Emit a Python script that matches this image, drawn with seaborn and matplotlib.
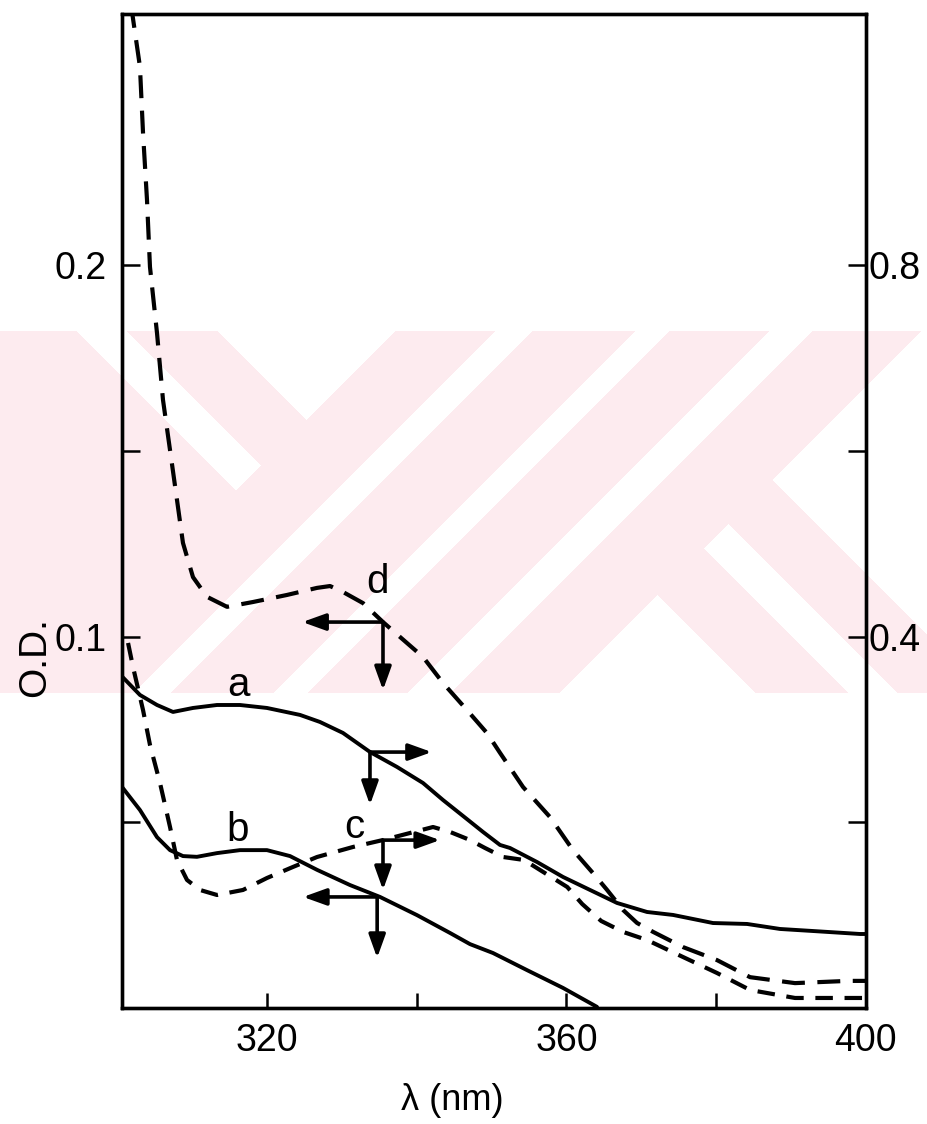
import numpy as np
import pandas as pd
import matplotlib
matplotlib.use("Agg")
import matplotlib.pyplot as plt
import seaborn as sns

# ---- spectra: wavelength (nm) and optical density ----
# curve a (solid, right-hand scale)
wl_a = [300.4, 302.99, 305.27, 307.41, 310.08, 313.29, 316.36, 319.97, 324.39,
        327.06, 330.13, 333.74, 337.35, 340.83, 343.50, 346.18, 348.85, 351.12,
        352.46, 356.07, 359.55, 363.16, 366.77, 370.78, 374.26, 379.60, 384.15,
        388.56, 392.97, 399.25, 400.2]
od_a = [0.3586, 0.3371, 0.3263, 0.3188, 0.3231, 0.3263, 0.3263, 0.3231, 0.3156,
        0.3080, 0.2962, 0.2757, 0.2596, 0.2423, 0.2240, 0.2068, 0.1896, 0.1756,
        0.1723, 0.1572, 0.1411, 0.1271, 0.1131, 0.1034, 0.1002, 0.0915, 0.0905,
        0.0851, 0.0829, 0.0797, 0.0797]

# curve b (solid, left-hand scale)
wl_b = [300.4, 302.99, 305.27, 307.01, 308.74, 310.61, 313.29, 316.36, 319.97,
        323.05, 326.66, 331.07, 335.08, 340.03, 344.44, 347.11, 350.19, 354.73,
        359.55, 364.09]
od_b = [0.0600, 0.0533, 0.0460, 0.0425, 0.0409, 0.0407, 0.0417, 0.0425, 0.0425,
        0.0409, 0.0372, 0.0331, 0.0299, 0.0250, 0.0202, 0.0172, 0.0148, 0.0102,
        0.0054, 0.0003]

# curve c (dashed, right-hand scale)
wl_c = [301.40, 302.06, 303.40, 304.33, 305.67, 307.01, 307.94, 309.28, 311.02,
        313.29, 316.76, 319.97, 323.45, 326.66, 331.47, 335.48, 342.17, 344.44,
        347.11, 349.12, 351.53, 354.33, 360.11, 362.11, 364.65, 367.59, 370.78,
        375.59, 380.13, 384.55, 390.56, 397.65, 400.2]
od_c = [0.3931, 0.3673, 0.3209, 0.2833, 0.2423, 0.1949, 0.1594, 0.1379, 0.1271,
        0.1217, 0.1271, 0.1400, 0.1519, 0.1626, 0.1734, 0.1809, 0.1949, 0.1896,
        0.1809, 0.1723, 0.1626, 0.1594, 0.1303, 0.1120, 0.0937, 0.0819, 0.0732,
        0.0549, 0.0377, 0.0194, 0.0108, 0.0108, 0.0108]

# curve d (dashed, left-hand scale)
wl_d = [301.80, 302.99, 303.40, 303.93, 304.33, 305.27, 306.07, 307.01, 307.94,
        308.74, 310.08, 311.95, 314.63, 318.10, 322.65, 326.66, 328.40, 330.13,
        332.81, 335.48, 337.75, 340.83, 343.50, 346.71, 349.39, 351.12, 354.20,
        357.81, 360.88, 363.56, 365.43, 367.57, 369.44, 371.58, 375.59, 380.13,
        384.55, 390.56, 397.65, 400.2]
od_d = [0.2700, 0.2534, 0.2356, 0.2176, 0.1995, 0.1817, 0.1637, 0.1502, 0.1368,
        0.1252, 0.1160, 0.1107, 0.1080, 0.1093, 0.1112, 0.1131, 0.1136, 0.1120,
        0.1090, 0.1039, 0.0999, 0.0945, 0.0875, 0.0802, 0.0740, 0.0687, 0.0595,
        0.0514, 0.0425, 0.0363, 0.0318, 0.0264, 0.0229, 0.0205, 0.0164, 0.0129,
        0.0083, 0.0067, 0.0073, 0.0073]

# axis ticks
x_major = [320, 360, 400]
x_minor = [340, 380]
left_major = [0.1, 0.2]
left_minor = [0.05, 0.15]
right_major = [0.4, 0.8]
right_minor = [0.2, 0.6]
left_labels = ["0.1", "0.2"]
right_labels = ["0.4", "0.8"]

# curve letters (left-scale coordinates)
curve_names = ["a", "b", "c", "d"]
name_wl = [316.1, 316.1, 331.7, 334.8]
name_od = [0.0870, 0.0479, 0.0487, 0.1147]

# scale-indicating arrows: junction, horizontal tip, vertical tip (left-scale coords)
arrow_wl = [335.48, 333.74, 335.48, 334.7]
arrow_od = [0.1039, 0.0689, 0.0452, 0.0299]
arrow_htip = [324.7, 342.0, 343.1, 324.8]
arrow_vtip = [0.0856, 0.0547, 0.0318, 0.0135]

W, H = 927, 1124
FONT = ["Liberation Sans", "DejaVu Sans"]

sns.set_theme(style="ticks")
plt.rcParams["font.family"] = FONT
plt.rcParams["text.color"] = "black"
plt.rcParams["axes.labelcolor"] = "black"
plt.rcParams["axes.linewidth"] = 2.2

fig = plt.figure(figsize=(W / 100, H / 100), dpi=100)
fig.patch.set_facecolor("white")


def watermark(fig):
    yy, xx = np.mgrid[0:H, 0:W] + 0.5
    s = xx + yy
    c = xx - yy
    band = (yy >= 331) & (yy <= 693)
    left = s < 727
    mid = (s >= 727) & (s < 1253)
    right = s >= 1253
    pink = left & ~((c >= -254) & (c < -204)) & (c < -113)
    pink |= mid & ~((s >= 827) & (s < 864)) & ~((s >= 967) & (s < 1001)) \
        & ~((s >= 1101) & (s < 1144))
    pink |= right & (c >= 63) & (c < 293) & ~((c >= 156) & (c < 205))
    pink &= band
    img = np.ones((H, W, 3))
    img[pink] = (253 / 255, 235 / 255, 239 / 255)
    bg = fig.add_axes([0, 0, 1, 1], zorder=-10)
    bg.imshow(img, aspect="auto", interpolation="nearest")
    bg.axis("off")


watermark(fig)

ax = fig.add_axes([122 / W, 1 - 1008 / H, 744 / W, 994 / H])
ax.set_facecolor("none")
ax2 = ax.twinx()
ax2.set_facecolor("none")

XMIN, XMAX = 300.59, 400.05
YTOP = 0.2676

df_a = pd.DataFrame({"wl": wl_a, "od": od_a})
df_b = pd.DataFrame({"wl": wl_b, "od": od_b})
df_c = pd.DataFrame({"wl": wl_c, "od": od_c})
df_d = pd.DataFrame({"wl": wl_d, "od": od_d})

sns.lineplot(data=df_b, x="wl", y="od", ax=ax, color="black", lw=2.8,
             estimator=None, sort=False)
sns.lineplot(data=df_d, x="wl", y="od", ax=ax, color="black", lw=3.0,
             estimator=None, sort=False)
ax.lines[-1].set_dashes([5.5, 3.0])
sns.lineplot(data=df_a, x="wl", y="od", ax=ax2, color="black", lw=2.8,
             estimator=None, sort=False)
sns.lineplot(data=df_c, x="wl", y="od", ax=ax2, color="black", lw=3.0,
             estimator=None, sort=False)
ax2.lines[-1].set_dashes([4.2, 2.8])

for a_ in (ax, ax2):
    a_.set_xlim(XMIN, XMAX)
    for sp in a_.spines.values():
        sp.set_linewidth(2.4)
        sp.set_color("black")
ax.set_ylim(0, YTOP)
ax2.set_ylim(0, 4 * YTOP)

TICK_FS = 27
ax.set_xticks(x_major)
ax.set_xticks(x_minor, minor=True)
ax.set_xticklabels([str(v) for v in x_major], fontsize=TICK_FS)
ax.set_yticks(left_major)
ax.set_yticks(left_minor, minor=True)
ax.set_yticklabels(left_labels, fontsize=TICK_FS)
ax2.set_yticks(right_major)
ax2.set_yticks(right_minor, minor=True)
ax2.set_yticklabels(right_labels, fontsize=TICK_FS)

ax.tick_params(axis="x", which="both", direction="in", length=11, width=1.8,
               pad=11, colors="black", top=False)
ax.tick_params(axis="y", which="both", direction="in", length=13, width=1.8,
               pad=11, colors="black", right=False)
ax2.tick_params(axis="y", which="both", direction="in", length=13, width=1.8,
                pad=2, colors="black")

ax.set_xlabel("λ (nm)", fontsize=26)
ax.xaxis.set_label_coords(0.4435, -0.075)
ax.set_ylabel("O.D.", fontsize=28)
ax.yaxis.set_label_coords(-0.092, 0.353)
ax2.set_ylabel("")

for name, x, y in zip(curve_names, name_wl, name_od):
    ax.text(x, y, name, fontsize=29, ha="center", va="center", color="black")

arrow_kw = dict(arrowstyle="-|>,head_length=1.0,head_width=0.36", color="black",
                lw=2.6, mutation_scale=14, shrinkA=0, shrinkB=0)
for x0, y0, xh, yv in zip(arrow_wl, arrow_od, arrow_htip, arrow_vtip):
    ax.annotate("", xy=(xh, y0), xytext=(x0, y0), arrowprops=arrow_kw)
    ax.annotate("", xy=(x0, yv), xytext=(x0, y0), arrowprops=arrow_kw)

fig.savefig("out.png", dpi=100, facecolor="white")
